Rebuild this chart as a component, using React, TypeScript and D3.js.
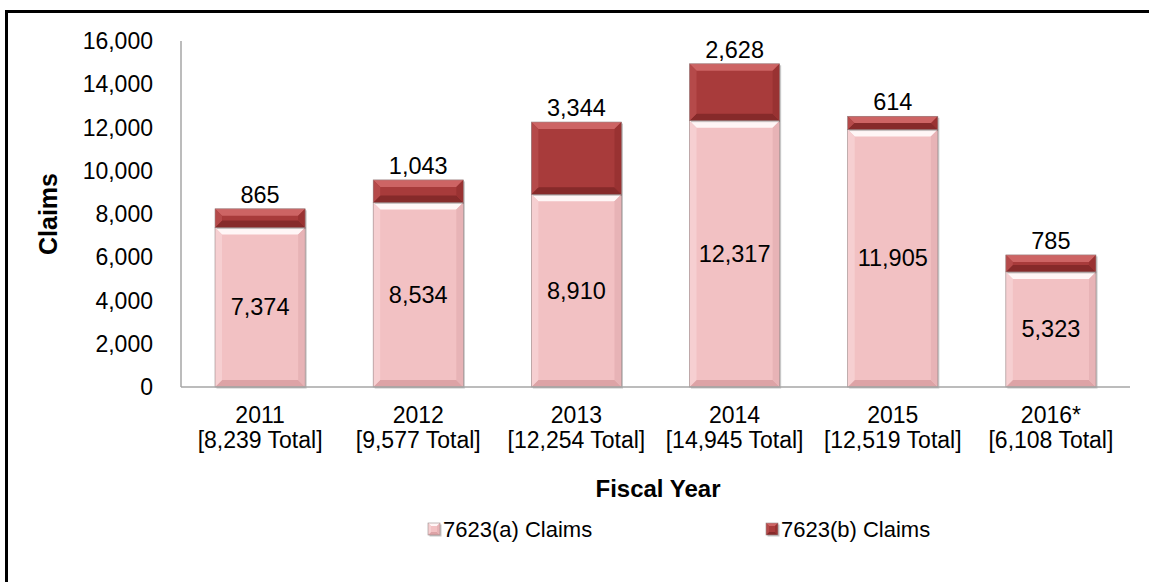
import * as d3 from "d3";

// fiscal years and claim counts
const years = ["2011", "2012", "2013", "2014", "2015", "2016*"];
const totals = ["8,239", "9,577", "12,254", "14,945", "12,519", "6,108"];
const claimsA = [7374, 8534, 8910, 12317, 11905, 5323];
const claimsB = [865, 1043, 3344, 2628, 614, 785];
const yTicks = [0, 2000, 4000, 6000, 8000, 10000, 12000, 14000, 16000];
const seriesNames = ["7623(a) Claims", "7623(b) Claims"];

const W = 1149;
const H = 582;
const left = 181;
const right = 1130;
const top = 41;
const bottom = 387;
const font = "'Liberation Sans', Arial, sans-serif";

const pal = {
  a: { base: "#f2c1c3", top: "#fff6f6", bottom: "#dda3a6", left: "#f6cfd1", right: "#e7b3b6" },
  b: { base: "#a83b3b", top: "#cd6464", bottom: "#862a2a", left: "#b54a4a", right: "#993232" },
};

type Pal = typeof pal.a;

const Bevel = ({ x, y, w, h, c, bv }: { x: number; y: number; w: number; h: number; c: Pal; bv: number }) => {
  const b = Math.min(bv, h / 2, w / 2);
  const x2 = x + w;
  const y2 = y + h;
  return (
    <g>
      <rect x={x + 1.5} y={y + 1.5} width={w} height={h} fill="#000" opacity={0.22} />
      <rect x={x} y={y} width={w} height={h} fill={c.base} />
      <polygon points={`${x},${y} ${x2},${y} ${x2 - b},${y + b} ${x + b},${y + b}`} fill={c.top} />
      <polygon points={`${x},${y2} ${x2},${y2} ${x2 - b},${y2 - b} ${x + b},${y2 - b}`} fill={c.bottom} />
      <polygon points={`${x},${y} ${x + b},${y + b} ${x + b},${y2 - b} ${x},${y2}`} fill={c.left} />
      <polygon points={`${x2},${y} ${x2 - b},${y + b} ${x2 - b},${y2 - b} ${x2},${y2}`} fill={c.right} />
      <rect x={x} y={y} width={w} height={h} fill="none" stroke="#9a8a8a" strokeWidth={0.6} />
    </g>
  );
};

export default function App() {
  const x = d3.scaleBand().domain(years).range([left, right]).paddingInner(0.43).paddingOuter(0.215);
  const y = d3.scaleLinear().domain([0, 16000]).range([bottom, top]);
  const fmt = d3.format(",");
  const bw = x.bandwidth();

  return (
    <svg width={W} height={H} style={{ position: "absolute", left: 0, top: 0, background: "#fff" }} fontFamily={font}>
      <rect x={6.5} y={11.5} width={1200} height={620} fill="#fff" stroke="#000" strokeWidth={3} />

      {/* y ticks */}
      {yTicks.map((t) => (
        <text key={t} x={153} y={y(t)} textAnchor="end" dominantBaseline="central" fontSize={23} fill="#000">
          {fmt(t)}
        </text>
      ))}
      <text transform={`translate(48,${(top + bottom) / 2}) rotate(-90)`} textAnchor="middle" dominantBaseline="central" fontSize={25} fontWeight="bold">
        Claims
      </text>

      {/* bars */}
      {years.map((yr, i) => {
        const x0 = x(yr)!;
        const a = claimsA[i];
        const b = claimsB[i];
        return (
          <g key={yr}>
            <Bevel x={x0} y={y(a)} w={bw} h={bottom - y(a)} c={pal.a} bv={7} />
            <Bevel x={x0} y={y(a + b)} w={bw} h={y(a) - y(a + b)} c={pal.b} bv={7} />
            <text x={x0 + bw / 2} y={(y(a) + bottom) / 2} textAnchor="middle" dominantBaseline="central" fontSize={23.5}>
              {fmt(a)}
            </text>
            <text x={x0 + bw / 2} y={y(a + b) - 6} textAnchor="middle" fontSize={23.5}>
              {fmt(b)}
            </text>
          </g>
        );
      })}

      {/* axis lines */}
      <line x1={left} x2={left} y1={top} y2={bottom} stroke="#a6a6a6" strokeWidth={1.5} />
      <line x1={left} x2={right} y1={bottom} y2={bottom} stroke="#a6a6a6" strokeWidth={1.5} />

      {/* categories */}
      {years.map((yr, i) => {
        const cx = x(yr)! + bw / 2;
        return (
          <text key={yr} x={cx} textAnchor="middle" fontSize={23}>
            <tspan x={cx} y={423}>{yr}</tspan>
            <tspan x={cx} y={448}>[{totals[i]} Total]</tspan>
          </text>
        );
      })}
      <text x={658} y={497} textAnchor="middle" fontSize={24} fontWeight="bold">
        Fiscal Year
      </text>

      {/* legend */}
      {seriesNames.map((name, i) => {
        const lx = i === 0 ? 428 : 766;
        return (
          <g key={name}>
            <Bevel x={lx} y={523} w={12} h={12} c={i === 0 ? pal.a : pal.b} bv={3} />
            <text x={lx + 15} y={529} dominantBaseline="central" fontSize={22}>
              {name}
            </text>
          </g>
        );
      })}
    </svg>
  );
}
